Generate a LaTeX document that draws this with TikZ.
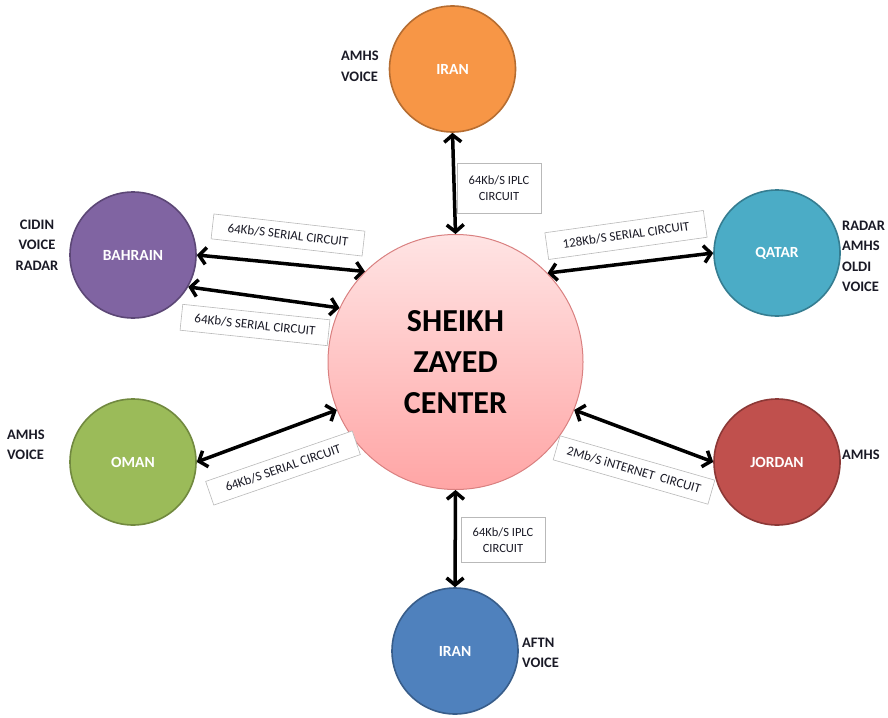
\documentclass[tikz,border=0pt]{standalone}
\usepackage{fontspec}
\setmainfont{Carlito}
\usetikzlibrary{arrows.meta}

\definecolor{iranorange}{HTML}{F79646}
\definecolor{iranorangeline}{HTML}{B66D31}
\definecolor{bahrainpurple}{HTML}{8064A2}
\definecolor{bahrainpurpleline}{HTML}{5C4776}
\definecolor{qatarteal}{HTML}{4BACC6}
\definecolor{qatartealline}{HTML}{357D91}
\definecolor{omangreen}{HTML}{9BBB59}
\definecolor{omangreenline}{HTML}{71893F}
\definecolor{jordanred}{HTML}{C0504D}
\definecolor{jordanredline}{HTML}{8C3836}
\definecolor{iranblue}{HTML}{4F81BD}
\definecolor{iranblueline}{HTML}{385D8A}
\definecolor{hubline}{HTML}{D98080}
\definecolor{tagtext}{HTML}{1A1A26}

\begin{document}
\begin{tikzpicture}[x=1pt,y=-1pt,
  site/.style={circle,line width=1.6pt,minimum size=126pt,inner sep=0pt,text=white,font=\bfseries\fontsize{15.5}{17}\selectfont},
  link/.style={{Straight Barb[length=7pt,width=17pt]}-{Straight Barb[length=7pt,width=17pt]},line width=3.5pt},
  tag/.style={draw=gray!55,fill=white,line width=0.6pt,text=tagtext,font=\fontsize{13}{15}\selectfont,inner sep=0pt,minimum height=25pt},
  svc/.style={font=\bfseries\fontsize{14.5}{20.5}\selectfont,text=tagtext,align=left,anchor=west,inner sep=1pt}]
\useasboundingbox (0,0) rectangle (888,717);

% stations
\node[circle,draw=hubline,line width=1pt,minimum size=255pt,inner sep=0pt,
  top color={rgb,255:red,255;green,228;blue,228},bottom color={rgb,255:red,255;green,165;blue,165},
  font=\bfseries\fontsize{32}{41}\selectfont,align=center] (hub) at (455.5,362) {SHEIKH\\ZAYED\\CENTER};
\node[site,draw=iranorangeline,fill=iranorange] (irantop) at (452.5,69) {IRAN};
\node[site,draw=bahrainpurpleline,fill=bahrainpurple] (bahrain) at (133,255) {BAHRAIN};
\node[site,draw=qatartealline,fill=qatarteal] (qatar) at (777,253) {QATAR};
\node[site,draw=omangreenline,fill=omangreen] (oman) at (133,462) {OMAN};
\node[site,draw=jordanredline,fill=jordanred] (jordan) at (777,462) {JORDAN};
\node[site,draw=iranblueline,fill=iranblue] (iranbot) at (455,651) {IRAN};

% services
\node[svc] (irantopsvc) at (340,66.5) {AMHS\\VOICE};
\node[svc,align=center,anchor=center] (bahrainsvc) at (37,245) {CIDIN\\VOICE\\RADAR};
\node[svc] (qatarsvc) at (841,256.5) {RADAR\\AMHS\\OLDI\\VOICE};
\node[svc] (omansvc) at (6,445) {AMHS\\VOICE};
\node[svc] (jordansvc) at (841,455) {AMHS};
\node[svc] (iranbotsvc) at (521,653) {AFTN\\VOICE};

% circuits
\draw[link] (irantop.south) -- (hub.north);
\draw[link] (bahrain.east) -- (hub.135);
\draw[link] (bahrain.-30) -- (hub.155);
\draw[link] (hub.44) -- (qatar.west);
\draw[link] (hub.-22) -- (jordan.west);
\draw[link] (oman.east) -- (hub.-158);
\draw[link] (hub.south) -- (iranbot.north);

% circuit labels
\node[tag,minimum width=84pt,minimum height=50pt,align=center,font=\fontsize{12.5}{16}\selectfont] (toptag) at (499,188) {64Kb/S IPLC\\CIRCUIT};
\node[tag,minimum width=152pt,rotate=-6.5] (bahraintag) at (288,235) {64Kb/S SERIAL CIRCUIT};
\node[tag,minimum width=148pt,minimum height=26pt,rotate=-6] (bahraintagb) at (255,325) {64Kb/S SERIAL CIRCUIT};
\node[tag,minimum width=160pt,minimum height=27pt,rotate=8] (qatartag) at (626,235) {128Kb/S SERIAL CIRCUIT};
\node[tag,minimum width=161pt,rotate=-16] (jordantag) at (634,470) {2Mb/S iNTERNET~~CIRCUIT};
\node[tag,minimum width=155pt,rotate=19] (omantag) at (283,468) {64Kb/S SERIAL CIRCUIT};
\node[tag,minimum width=84pt,minimum height=45pt,align=center,font=\fontsize{12.5}{16}\selectfont] (bottag) at (503,540) {64Kb/S IPLC\\CIRCUIT};
\end{tikzpicture}
\end{document}
